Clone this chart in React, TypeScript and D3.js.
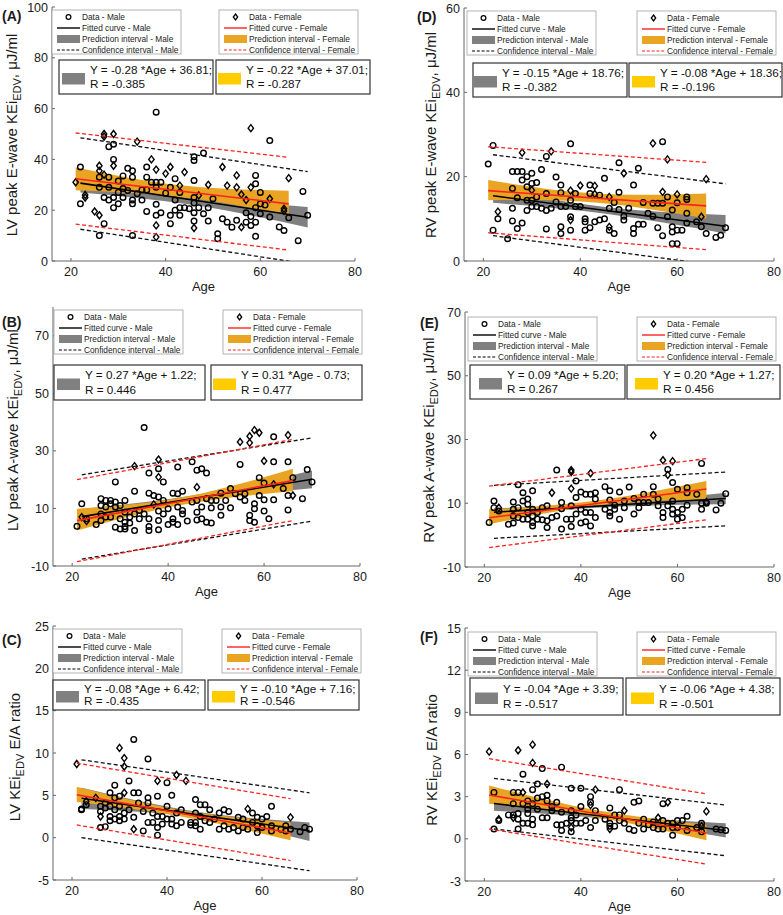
import * as d3 from 'd3';

type Pt = [number, number];
type Band = [number, number, number];

const xTicks = [20, 40, 60, 80];

// ---- (A) LV peak E-wave KEi
const aYDomain: Pt = [0, 100];
const aYTicks = [0, 20, 40, 60, 80, 100];
const aMale: Pt[] = [[22,37],[22,22.5],[26,10],[26,33],[26,29],[27,25],[27,14.7],[28,45],[28,33],[28,29],[28,24],[29,46],[29,40],[29,25],[29,21],[30,31.5],[30,27],[30,22.5],[31,33.5],[31,28.5],[31,25],[32,36.5],[32,27.8],[33,10],[33,35.5],[33,33],[33,24],[33,22.5],[34,26.5],[35,24],[35,28],[36,19.5],[36,37],[36,33],[36,28],[37,31],[38,58.6],[38,31],[38,29],[38,22.3],[38,18],[39,31],[39,19],[40,26.7],[41,29],[41,18],[41,14.7],[42,32.4],[42,24],[42,20],[43,27],[43,21],[43,18],[44,21],[45,20.6],[46,41],[46,39.6],[46,31.7],[46,25],[46,22.8],[46,19],[46,15.7],[47,21],[48,42.5],[48,18.6],[49,21],[49,15.7],[50,24.5],[51,10.7],[51,8.8],[52,16.6],[53,15.3],[54,13.3],[55,16],[57,19],[57,15.3],[58,17.5],[58,14],[59,33.7],[59,30.4],[59,21],[59,15.3],[59,9.7],[60,27],[60,22.5],[60,18.6],[61,22],[62,47.4],[62,17.3],[64,13.4],[65,12],[66,17],[68,8],[69,27.4],[70,18]];
const aFemale: Pt[] = [[21,31],[23,25],[23,26],[25,19.5],[26,18],[26,37.5],[26,35.5],[27,50],[27,49],[27,34],[29,50],[29,37.5],[34,47],[37,40],[38,36],[38,14],[38,9.4],[40,34.4],[41,37],[43,29.7],[44,35],[46,13],[47,25.8],[49,30],[52,37],[53,29.7],[55,33.7],[55,29],[56,26.2],[56,13.3],[57,24],[58,52.3],[58,29],[62,24.5],[65,20.6],[65,19.7],[66,32.6]];
const aMaleFit: Pt[] = [[22, 30.65], [70, 17.21]];
const aFemaleFit: Pt[] = [[21, 32.39], [66, 22.49]];
const aMaleBand: Band[] = [[22, 27.0, 34.3], [46, 22.0, 25.8], [70, 13.2, 21.3]];
const aFemaleBand: Band[] = [[21, 27.9, 36.9], [43, 25.2, 29.8], [66, 18.4, 27.7]];
const aMaleCI: Band[] = [[22, 12.5, 48.5], [70, -1.2, 35.2]];
const aFemaleCI: Band[] = [[21, 14.5, 50.4], [66, 4.3, 40.8]];
const aMaleEq = ['Y = -0.28 *Age + 36.81;', 'R = -0.385'];
const aFemaleEq = ['Y = -0.22 *Age + 37.01;', 'R = -0.287'];

// ---- (B) LV peak A-wave KEi
const bYDomain: Pt = [-10, 80];
const bYTicks = [-10, 10, 30, 50, 70];
const bMale: Pt[] = [[21,3.8],[22,11.6],[23,6.4],[25,4.4],[26,13.4],[26,8.1],[26,5.8],[26,11],[27,12.8],[27,7],[27,10.5],[28,12.8],[28,11.6],[28,7],[29,19.2],[29,12.2],[29,10.5],[29,3.5],[30,11],[30,6.4],[30,2.9],[31,12.8],[31,8.7],[31,5.2],[31,3.7],[31,2.9],[32,7],[32,4.9],[33,16],[33,8.1],[33,2.3],[34,9.3],[34,6.4],[35,38.1],[35,8.1],[36,22.3],[36,15.3],[36,6.4],[36,2.3],[36,3.7],[37,14.5],[38,23.8],[38,14],[38,9.1],[38,5.8],[38,2.6],[39,19.2],[39,12.8],[39,8.1],[40,9.9],[40,4.4],[41,15.3],[41,6.4],[41,5.2],[42,24.4],[42,15.1],[42,10.5],[42,4.4],[43,16],[43,9.3],[43,8.1],[44,5.6],[45,26.2],[45,12.2],[46,23.3],[46,8.7],[46,6],[46,12.8],[47,23.8],[47,10.5],[47,6.4],[48,22.3],[48,13.4],[48,5.2],[49,12.8],[49,10.2],[49,4.9],[50,12.8],[51,15.3],[51,7.6],[51,10.5],[52,12.8],[53,16.9],[53,10.2],[54,15.1],[55,25.3],[55,14],[56,12.8],[56,15.1],[57,7.6],[57,5.8],[58,11.6],[58,5.2],[58,9.9],[59,20.7],[59,14.5],[60,18.8],[60,13],[60,9.1],[61,6.4],[62,34.9],[62,26.2],[62,13],[64,16.9],[65,26.2],[65,14.5],[65,9.5],[66,20.7],[68,13.4],[69,23.5],[70,19.2]];
const bFemale: Pt[] = [[22,7],[23,5.6],[33,24.7],[37,11.4],[38,27],[38,20.9],[46,17.4],[55,33.1],[57,35.1],[57,32.8],[58,37.2],[59,36.3],[60,26.5],[62,18.4],[65,35.5],[66,14.5]];
const bMaleFit: Pt[] = [[22, 7.16], [70, 20.12]];
const bFemaleFit: Pt[] = [[21, 5.78], [66, 19.73]];
const bMaleBand: Band[] = [[22, 4.5, 9.8], [46, 12.5, 14.8], [70, 17.0, 23.2]];
const bFemaleBand: Band[] = [[21, 2.3, 9.9], [43, 11.3, 13.9], [66, 16.0, 23.8]];
const bMaleCI: Band[] = [[22, -7.6, 21.7], [70, 5.6, 34.5]];
const bFemaleCI: Band[] = [[21, -8.5, 20.0], [66, 5.8, 34.0]];
const bMaleEq = ['Y = 0.27 *Age + 1.22;', 'R = 0.446'];
const bFemaleEq = ['Y = 0.31 *Age - 0.73;', 'R = 0.477'];

// ---- (C) LV KEi E/A ratio
const cYDomain: Pt = [-5, 25];
const cYTicks = [-5, 0, 5, 10, 15, 20, 25];
const cMale: Pt[] = [[22,3.4],[22,3.3],[23,3.9],[26,1.2],[26,3.7],[26,3.1],[27,1.3],[27,4.1],[27,3.5],[28,5.3],[28,2.5],[28,2],[28,3.7],[29,6.2],[29,4.7],[29,3.3],[29,2.2],[30,4.9],[30,3.7],[30,2.5],[30,2],[31,2.9],[31,2.2],[32,6.7],[32,3.3],[33,11.6],[33,5.3],[33,2.4],[34,5.3],[34,4.1],[35,0.8],[35,3.1],[36,9.3],[36,4.7],[36,4.1],[36,1.8],[37,1.8],[37,2.9],[38,4.9],[38,2.5],[38,1.2],[38,0.3],[39,2.5],[39,1.6],[40,6.5],[40,3.7],[40,2.2],[41,5],[41,2.2],[41,1.6],[42,2.9],[42,1.4],[43,3.3],[43,1.8],[45,1.8],[45,1.5],[46,4.5],[46,2.9],[46,1.8],[46,1.4],[47,3.9],[47,1],[47,2.5],[48,3.9],[48,2],[49,3.3],[49,1.8],[50,2.2],[51,2.9],[51,1],[52,3.3],[52,1.4],[53,3.1],[53,1],[54,1.2],[55,2.4],[55,0.8],[56,2.2],[56,1.2],[57,1],[58,2.9],[58,1.8],[59,2.4],[59,0.6],[59,1.4],[60,2.2],[60,1.2],[61,2.5],[62,3.7],[62,1.4],[62,0.8],[64,1],[65,1.4],[65,0.8],[66,1],[68,0.7],[69,1.2],[70,1]];
const cFemale: Pt[] = [[21,8.7],[23,4.3],[25,4.7],[26,2.5],[30,10.6],[31,9.4],[31,8.4],[31,5.3],[33,1],[38,6.7],[42,7.4],[44,6.7],[57,3.4],[66,2.4]];
const cMaleFit: Pt[] = [[22, 4.66], [70, 0.82]];
const cFemaleFit: Pt[] = [[21, 5.06], [66, 0.56]];
const cMaleBand: Band[] = [[22, 3.4, 5.9], [46, 2.4, 3.1], [70, -0.4, 1.8]];
const cFemaleBand: Band[] = [[21, 4.2, 6.0], [43, 2.5, 3.25], [66, -0.3, 1.8]];
const cMaleCI: Band[] = [[22, 0.0, 9.2], [70, -3.9, 5.3]];
const cFemaleCI: Band[] = [[21, 1.5, 8.8], [66, -2.7, 4.6]];
const cMaleEq = ['Y = -0.08 *Age + 6.42;', 'R = -0.435'];
const cFemaleEq = ['Y = -0.10 *Age + 7.16;', 'R = -0.546'];

// ---- (D) RV peak E-wave KEi
const dYDomain: Pt = [0, 60];
const dYTicks = [0, 20, 40, 60];
const dMale: Pt[] = [[21,23],[22,27.4],[22,7.3],[23,10],[25,5.3],[26,21.2],[26,17.2],[26,12.5],[26,9.5],[27,21.2],[27,15],[27,7.7],[28,21.2],[28,19.2],[28,9],[29,20],[29,17.6],[29,14.4],[29,12],[30,20.8],[30,18.4],[30,14.4],[30,12.9],[31,18.6],[31,15.2],[31,12.9],[32,21.7],[32,12.5],[33,24.8],[33,16],[33,12],[33,7.6],[34,12.5],[35,19.9],[35,14],[36,18],[36,16.2],[36,12.9],[36,8.1],[36,6.5],[37,12.9],[38,27.8],[38,14.4],[38,10.5],[38,7.3],[39,16],[39,12.9],[40,12.9],[41,10],[41,9.3],[41,7.3],[42,18],[42,16],[42,7.9],[43,9.3],[44,15.6],[44,9.7],[45,19.6],[45,10],[46,12.5],[46,7.3],[47,13.9],[47,6.5],[48,23.3],[48,16.3],[48,12.2],[49,10.6],[49,9.7],[50,12.5],[51,18],[51,7.7],[51,6.5],[52,22],[52,8.7],[53,13.9],[53,8.7],[54,11.3],[55,13.7],[55,10.6],[56,7.9],[56,13.7],[57,28.3],[57,13.7],[57,6],[58,15.2],[58,10.5],[59,12.1],[59,8.1],[59,6.9],[59,4.1],[60,13.8],[60,7.3],[60,4.1],[61,7.3],[62,15.2],[62,14.6],[62,11.3],[62,9],[64,9.3],[65,8.1],[66,6.5],[68,5.6],[69,6.1],[70,7.9]];
const dFemale: Pt[] = [[23,11.7],[28,25.7],[30,16.8],[34,26],[38,16.7],[38,9.7],[40,17.9],[43,17.8],[43,15.9],[46,15.2],[46,8.1],[49,20.8],[55,27.9],[57,16.4],[58,24.1],[60,15.8],[65,10.5],[66,19.4]];
const dMaleFit: Pt[] = [[22, 15.46], [70, 8.26]];
const dFemaleFit: Pt[] = [[21, 16.68], [66, 13.08]];
const dMaleBand: Band[] = [[22, 13.8, 17.1], [46, 11.1, 12.7], [70, 6.5, 10.9]];
const dFemaleBand: Band[] = [[21, 14.4, 19.2], [43, 13.9, 16.0], [66, 10.1, 16.0]];
const dMaleCI: Band[] = [[22, 6.0, 25.2], [70, -1.3, 18.3]];
const dFemaleCI: Band[] = [[21, 6.7, 27.1], [66, 2.7, 23.4]];
const dMaleEq = ['Y = -0.15 *Age + 18.76;', 'R = -0.382'];
const dFemaleEq = ['Y = -0.08 *Age + 18.36;', 'R = -0.196'];

// ---- (E) RV peak A-wave KEi
const eYDomain: Pt = [-10, 70];
const eYTicks = [-10, 10, 30, 50, 70];
const eMale: Pt[] = [[21,4],[22,10.7],[22,8.6],[23,7.6],[25,3.4],[26,10.4],[26,8.1],[26,6],[26,3.8],[27,15.8],[27,8.6],[27,5.5],[28,13.3],[28,10.7],[28,5],[29,11.3],[29,9.7],[29,7.1],[29,5],[30,13.9],[30,8.1],[30,6],[30,4],[30,2.9],[31,7.1],[31,5],[32,8.6],[32,4.8],[33,9.2],[33,4.5],[33,2.4],[34,5.5],[35,20.4],[35,6],[36,10.2],[36,1.9],[36,8.3],[37,5],[38,9.2],[38,5],[38,2.7],[39,17],[39,11.8],[39,6.6],[40,13.5],[40,8.1],[40,3.8],[41,12.8],[41,7.1],[41,4.2],[42,12.8],[42,7.1],[42,2.9],[43,11.3],[43,5.5],[43,13.3],[45,15.2],[45,8.1],[46,13.9],[46,11],[46,7.1],[46,6],[47,9.4],[47,8.1],[48,13.5],[48,5],[49,10.7],[49,8.6],[50,15.1],[51,11.5],[51,6.6],[52,10.2],[52,8.6],[53,12.8],[53,10.2],[54,10.2],[55,15.2],[55,12.8],[56,11.3],[56,9.2],[57,5.5],[57,7.1],[58,20.6],[58,9.2],[59,16.5],[59,10.7],[59,8.1],[59,6.6],[60,14.4],[60,7.1],[60,5],[61,5.5],[61,8.1],[62,14.9],[62,13.3],[62,9.4],[64,12.8],[65,22.5],[65,8.1],[65,10],[66,10],[68,7.9],[69,10],[70,13]];
const eFemale: Pt[] = [[23,8.6],[34,13.3],[38,20.4],[38,19.8],[38,14.6],[42,19.4],[55,31.3],[57,23.5],[58,18.9],[59,23.2],[66,10.4]];
const eMaleFit: Pt[] = [[22, 7.18], [70, 11.5]];
const eFemaleFit: Pt[] = [[21, 5.47], [66, 14.47]];
const eMaleBand: Band[] = [[22, 5.9, 8.5], [46, 8.8, 9.9], [70, 9.7, 13.3]];
const eFemaleBand: Band[] = [[21, 3.4, 8.1], [43, 9.2, 10.8], [66, 11.3, 17.0]];
const eMaleCI: Band[] = [[22, -1.0, 15.6], [70, 2.9, 19.8]];
const eFemaleCI: Band[] = [[21, -3.9, 15.4], [66, 4.8, 24.0]];
const eMaleEq = ['Y = 0.09 *Age + 5.20;', 'R = 0.267'];
const eFemaleEq = ['Y = 0.20 *Age + 1.27;', 'R = 0.456'];

// ---- (F) RV KEi E/A ratio
const fYDomain: Pt = [-3, 15];
const fYTicks = [-3, 0, 3, 6, 9, 12, 15];
const fMale: Pt[] = [[22,3.3],[22,0.7],[23,1.3],[25,1.7],[26,3.3],[26,2.5],[26,1.7],[27,3.3],[27,1.8],[27,1.4],[27,0.7],[28,4.6],[28,2.5],[28,1.1],[29,2.7],[29,2.1],[29,1.8],[29,1.1],[30,3.5],[30,2.5],[30,1.4],[30,1],[31,3.9],[31,2.9],[31,2.1],[32,5],[32,3],[32,1.5],[33,3.1],[33,2.7],[33,1.5],[34,2],[34,2.3],[35,2.6],[35,1],[36,5.1],[36,1.9],[36,1],[36,0.6],[37,1.1],[38,3.6],[38,2],[38,1.5],[38,0.5],[38,1.3],[39,1.7],[39,1.1],[40,3.6],[40,2.3],[40,1.1],[41,1.3],[42,2.6],[42,3],[42,0.8],[43,2],[43,1.3],[45,1.4],[46,2.2],[46,1.1],[46,0.9],[47,1.7],[47,0.9],[48,3.5],[48,1.7],[48,1.3],[49,1.1],[50,0.7],[51,2.6],[51,0.6],[52,2.7],[52,1.1],[53,1.4],[53,0.7],[54,1],[55,0.8],[55,1.2],[56,0.7],[57,2.5],[57,1.3],[57,0.7],[58,1.1],[59,0.8],[59,0.25],[59,1.1],[60,1.3],[60,0.8],[61,1.3],[62,1.6],[62,0.6],[64,0.8],[65,1.1],[65,0.5],[68,0.7],[69,0.65],[70,0.6]];
const fFemale: Pt[] = [[21,6.2],[23,1.4],[26,1.5],[27,6.3],[28,3.3],[30,6.7],[30,5.4],[33,3.9],[38,0.8],[42,2.4],[43,3.5],[46,0.7],[49,2],[56,1.5],[58,2.6],[65,0.9],[66,1.95]];
const fMaleFit: Pt[] = [[22, 2.51], [70, 0.59]];
const fFemaleFit: Pt[] = [[21, 3.12], [66, 0.42]];
const fMaleBand: Band[] = [[22, 2.0, 2.9], [46, 1.38, 1.7], [70, 0.1, 1.1]];
const fFemaleBand: Band[] = [[21, 2.5, 3.8], [43, 1.55, 2.05], [66, -0.1, 1.0]];
const fMaleCI: Band[] = [[22, 0.7, 4.3], [70, -1.2, 2.4]];
const fFemaleCI: Band[] = [[21, 0.7, 5.7], [66, -1.8, 3.2]];
const fMaleEq = ['Y = -0.04 *Age + 3.39;', 'R = -0.517'];
const fFemaleEq = ['Y = -0.06 *Age + 4.38;', 'R = -0.501'];

const FONT = "'Liberation Sans', Arial, Helvetica, sans-serif";
const GRAY = '#808080';
const ORANGE = '#E9A423';
const YELLOW = '#FFCC00';
const RED = '#FF2020';

interface Box { x: number; y: number; w: number; h: number; pad: number }

interface PanelSpec {
  id: string;
  tag: string;
  label: [string, string];
  labelX: number;
  labelY: number;
  tagX: number;
  tagY: number;
  left: number;
  right: number;
  top: number;
  bottom: number;
  yDomain: Pt;
  yTicks: number[];
  male: Pt[];
  female: Pt[];
  maleFit: Pt[];
  femaleFit: Pt[];
  maleBand: Band[];
  femaleBand: Band[];
  maleCI: Band[];
  femaleCI: Band[];
  maleEq: string[];
  femaleEq: string[];
  legM: [number, number];
  legF: [number, number];
  eqM: Box;
  eqF: Box;
}

const panels: PanelSpec[] = [
  {
    id: 'A', tag: '(A)', label: ['LV peak E-wave KEi', ', \u03bcJ/ml'], labelX: 17, labelY: 135, tagX: 2, tagY: 21,
    left: 52, right: 355, top: 7, bottom: 261, yDomain: aYDomain, yTicks: aYTicks,
    male: aMale, female: aFemale, maleFit: aMaleFit, femaleFit: aFemaleFit,
    maleBand: aMaleBand, femaleBand: aFemaleBand, maleCI: aMaleCI, femaleCI: aFemaleCI,
    maleEq: aMaleEq, femaleEq: aFemaleEq,
    legM: [52, 10], legF: [219, 10],
    eqM: { x: 59, y: 60, w: 154, h: 34, pad: 3 }, eqF: { x: 216, y: 60, w: 154, h: 34, pad: 2 },
  },
  {
    id: 'B', tag: '(B)', label: ['LV peak A-wave KEi', ', \u03bcJ/ml'], labelX: 18, labelY: 430, tagX: 2, tagY: 327,
    left: 53, right: 360, top: 307, bottom: 566, yDomain: bYDomain, yTicks: bYTicks,
    male: bMale, female: bFemale, maleFit: bMaleFit, femaleFit: bFemaleFit,
    maleBand: bMaleBand, femaleBand: bFemaleBand, maleCI: bMaleCI, femaleCI: bFemaleCI,
    maleEq: bMaleEq, femaleEq: bFemaleEq,
    legM: [54, 310], legF: [223, 310],
    eqM: { x: 54, y: 365, w: 151, h: 35, pad: 3 }, eqF: { x: 211, y: 365, w: 151, h: 35, pad: 2 },
  },
  {
    id: 'C', tag: '(C)', label: ['LV KEi', ' E/A ratio'], labelX: 20, labelY: 757, tagX: 2, tagY: 645,
    left: 53, right: 357, top: 626, bottom: 880, yDomain: cYDomain, yTicks: cYTicks,
    male: cMale, female: cFemale, maleFit: cMaleFit, femaleFit: cFemaleFit,
    maleBand: cMaleBand, femaleBand: cFemaleBand, maleCI: cMaleCI, femaleCI: cFemaleCI,
    maleEq: cMaleEq, femaleEq: cFemaleEq,
    legM: [53, 629], legF: [222, 629],
    eqM: { x: 53, y: 680, w: 152, h: 30, pad: 3 }, eqF: { x: 208, y: 680, w: 151, h: 30, pad: 4 },
  },
  {
    id: 'D', tag: '(D)', label: ['RV peak E-wave KEi', ', \u03bcJ/ml'], labelX: 436, labelY: 135, tagX: 417, tagY: 22,
    left: 464, right: 774, top: 8, bottom: 261, yDomain: dYDomain, yTicks: dYTicks,
    male: dMale, female: dFemale, maleFit: dMaleFit, femaleFit: dFemaleFit,
    maleBand: dMaleBand, femaleBand: dFemaleBand, maleCI: dMaleCI, femaleCI: dFemaleCI,
    maleEq: dMaleEq, femaleEq: dFemaleEq,
    legM: [467, 11], legF: [637, 11],
    eqM: { x: 473, y: 63, w: 154, h: 34, pad: 1 }, eqF: { x: 629, y: 63, w: 153, h: 34, pad: 3 },
  },
  {
    id: 'E', tag: '(E)', label: ['RV peak A-wave KEi', ', \u03bcJ/ml'], labelX: 434, labelY: 440, tagX: 420, tagY: 328,
    left: 465, right: 774, top: 312, bottom: 567, yDomain: eYDomain, yTicks: eYTicks,
    male: eMale, female: eFemale, maleFit: eMaleFit, femaleFit: eFemaleFit,
    maleBand: eMaleBand, femaleBand: eFemaleBand, maleCI: eMaleCI, femaleCI: eFemaleCI,
    maleEq: eMaleEq, femaleEq: eFemaleEq,
    legM: [468, 317], legF: [637, 317],
    eqM: { x: 470, y: 365, w: 155, h: 34, pad: 9 }, eqF: { x: 627, y: 365, w: 153, h: 34, pad: 8 },
  },
  {
    id: 'F', tag: '(F)', label: ['RV KEi', ' E/A ratio'], labelX: 437, labelY: 760, tagX: 420, tagY: 642,
    left: 465, right: 774, top: 628, bottom: 881, yDomain: fYDomain, yTicks: fYTicks,
    male: fMale, female: fFemale, maleFit: fMaleFit, femaleFit: fFemaleFit,
    maleBand: fMaleBand, femaleBand: fFemaleBand, maleCI: fMaleCI, femaleCI: fFemaleCI,
    maleEq: fMaleEq, femaleEq: fFemaleEq,
    legM: [468, 632], legF: [637, 632],
    eqM: { x: 470, y: 678, w: 153, h: 37, pad: 5 }, eqF: { x: 626, y: 678, w: 154, h: 37, pad: 5 },
  },
];

const diamond = (cx: number, cy: number, w = 2.7, h = 3.5) =>
  `M${cx},${cy - h}L${cx + w},${cy}L${cx},${cy + h}L${cx - w},${cy}Z`;

const Legend = ({ x, y, female }: { x: number; y: number; female: boolean }) => {
  const w = female ? 139 : 129;
  const who = female ? 'Female' : 'Male';
  const s0 = x + 5;
  const s1 = x + 28;
  const tx = x + 30;
  const rows = [y + 7, y + 18, y + 29, y + 40];
  return (
    <g fontFamily={FONT} fontSize={8.3} fill="#222">
      <rect x={x} y={y} width={w} height={44} fill="#fff" stroke="#a0a0a0" strokeWidth={0.8} />
      {female
        ? <path d={diamond((s0 + s1) / 2, rows[0], 2.2, 3)} fill="none" stroke="#000" strokeWidth={1.3} />
        : <circle cx={(s0 + s1) / 2} cy={rows[0]} r={2.4} fill="none" stroke="#000" strokeWidth={1.2} />}
      <line x1={s0} x2={s1} y1={rows[1]} y2={rows[1]} stroke={female ? RED : '#000'} strokeWidth={1.4} />
      <rect x={s0} y={rows[2] - 4} width={s1 - s0} height={8} fill={female ? ORANGE : GRAY} />
      <line x1={s0} x2={s1} y1={rows[3]} y2={rows[3]} stroke={female ? RED : '#000'} strokeWidth={1.2} strokeDasharray="3 1.8" />
      {[`Data - ${who}`, `Fitted curve - ${who}`, `Prediction interval - ${who}`, `Confidence interval - ${who}`].map((t, i) => (
        <text key={t} x={tx} y={rows[i] + 3}>{t}</text>
      ))}
    </g>
  );
};

const EqBox = ({ b, lines, color }: { b: Box; lines: string[]; color: string }) => {
  const gap = b.h * 0.42;
  const mid = b.y + b.h / 2;
  return (
    <g fontFamily={FONT} fontSize={11.7} fill="#111">
      <rect x={b.x} y={b.y} width={b.w} height={b.h} fill="#fff" stroke="#333" strokeWidth={1.2} />
      <rect x={b.x + b.pad} y={mid - 4} width={23} height={11.5} fill={color} />
      <text x={b.x + b.pad + 28} y={mid - gap / 2 + 4}>{lines[0]}</text>
      <text x={b.x + b.pad + 28} y={mid + gap / 2 + 4}>{lines[1]}</text>
    </g>
  );
};

const Panel = ({ p }: { p: PanelSpec }) => {
  const x = d3.scaleLinear().domain([16, 80]).range([p.left, p.right]);
  const y = d3.scaleLinear().domain(p.yDomain).range([p.bottom, p.top]);
  const area = d3.area<Band>().x((d) => x(d[0])).y0((d) => y(d[1])).y1((d) => y(d[2])).curve(d3.curveNatural);
  const line = d3.line<Pt>().x((d) => x(d[0])).y((d) => y(d[1]));
  const lo = (b: Band[]) => line(b.map((d) => [d[0], d[1]] as Pt)) ?? '';
  const hi = (b: Band[]) => line(b.map((d) => [d[0], d[2]] as Pt)) ?? '';
  const clip = `clip-${p.id}`;
  const [lb, ls] = p.label;
  return (
    <g>
      <defs>
        <clipPath id={clip}>
          <rect x={p.left} y={p.top} width={p.right - p.left} height={p.bottom - p.top} />
        </clipPath>
      </defs>
      <g clipPath={`url(#${clip})`}>
        <path d={area(p.maleBand) ?? ''} fill={GRAY} />
        <path d={area(p.femaleBand) ?? ''} fill={ORANGE} />
        {p.male.map((d, i) => (
          <circle key={`m${i}`} cx={x(d[0])} cy={y(d[1])} r={2.8} fill="none" stroke="#000" strokeWidth={1.4} />
        ))}
        {p.female.map((d, i) => (
          <path key={`f${i}`} d={diamond(x(d[0]), y(d[1]))} fill="none" stroke="#000" strokeWidth={1.4} />
        ))}
        <path d={line(p.maleFit) ?? ''} stroke="#000" strokeWidth={1.6} fill="none" />
        <path d={line(p.femaleFit) ?? ''} stroke={RED} strokeWidth={1.6} fill="none" />
        {[lo(p.maleCI), hi(p.maleCI)].map((d, i) => (
          <path key={`mc${i}`} d={d} stroke="#111" strokeWidth={1.3} strokeDasharray="4 2.5" fill="none" />
        ))}
        {[lo(p.femaleCI), hi(p.femaleCI)].map((d, i) => (
          <path key={`fc${i}`} d={d} stroke={RED} strokeWidth={1.3} strokeDasharray="4 2.5" fill="none" />
        ))}
      </g>
      {/* axes */}
      <g fontFamily={FONT} fontSize={12.5} fill="#1a1a1a">
        <line x1={p.left} x2={p.left} y1={p.top} y2={p.bottom} stroke="#666" strokeWidth={1} />
        <line x1={p.left} x2={p.right} y1={p.bottom} y2={p.bottom} stroke="#666" strokeWidth={1} />
        {p.yTicks.map((t) => (
          <g key={`y${t}`}>
            <line x1={p.left} x2={p.left + 3} y1={y(t)} y2={y(t)} stroke="#666" />
            <text x={p.left - 4} y={y(t) + 4.5} textAnchor="end">{t}</text>
          </g>
        ))}
        {xTicks.map((t) => (
          <g key={`x${t}`}>
            <line x1={x(t)} x2={x(t)} y1={p.bottom} y2={p.bottom - 3} stroke="#666" />
            <text x={x(t)} y={p.bottom + 15} textAnchor="middle">{t}</text>
          </g>
        ))}
        <text x={(p.left + p.right) / 2} y={p.bottom + 29.5} textAnchor="middle" fontSize={13}>Age</text>
        <text
          transform={`translate(${p.labelX},${p.labelY}) rotate(-90)`}
          textAnchor="middle"
          fontSize={15}
        >
          {lb}
          <tspan fontSize={11} dy={4}>EDV</tspan>
          <tspan dy={-4}>{ls}</tspan>
        </text>
        <text x={p.tagX} y={p.tagY} fontWeight="bold" fontSize={14}>{p.tag}</text>
      </g>
      <Legend x={p.legM[0]} y={p.legM[1]} female={false} />
      <Legend x={p.legF[0]} y={p.legF[1]} female />
      <EqBox b={p.eqM} lines={p.maleEq} color={GRAY} />
      <EqBox b={p.eqF} lines={p.femaleEq} color={YELLOW} />
    </g>
  );
};

export default function App() {
  return (
    <svg
      width={783}
      height={915}
      style={{ position: 'absolute', left: 0, top: 0, background: '#fff' }}
    >
      {panels.map((p) => (
        <Panel key={p.id} p={p} />
      ))}
    </svg>
  );
}
